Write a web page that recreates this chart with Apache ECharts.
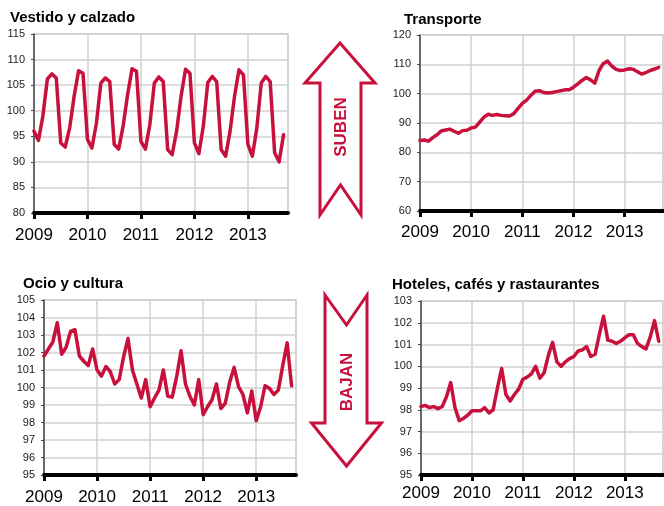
<!DOCTYPE html>
<html>
<head>
<meta charset="utf-8">
<title>IPC por grupos</title>
<script src="https://cdn.jsdelivr.net/npm/echarts@6/dist/echarts.min.js"></script>
<style>
  html, body { margin: 0; padding: 0; background: #fff; }
  #chart { width: 664px; height: 506px; }
</style>
</head>
<body>
<div id="chart"></div>
<script>
// años que se ven en el eje x (una marca cada enero)
var years = ['2009', '2010', '2011', '2012', '2013'];
// el eje llega hasta oct 2013, los datos hasta sep 2013
var nMonths = 58;

// ene 2009 - sep 2013
var vestido = [
  96.0, 94.2, 99.0, 106.2, 107.2, 106.4, 93.7, 92.9, 96.6, 102.8, 107.8, 107.3,
  94.4, 92.7, 97.5, 105.4, 106.4, 105.7, 93.4, 92.5, 97.0, 103.1, 108.2, 107.7,
  94.0, 92.5, 97.3, 105.4, 106.6, 105.7, 92.4, 91.4, 96.0, 102.8, 108.1, 107.3,
  93.7, 91.6, 97.0, 105.5, 106.7, 105.7, 92.4, 91.1, 96.0, 102.8, 108.0, 107.0,
  93.4, 91.1, 96.6, 105.4, 106.7, 105.7, 91.8, 90.0, 95.3
];
var transporte = [
  84.0, 84.2, 83.8, 85.0, 86.0, 87.3, 87.6, 87.9, 87.2, 86.5, 87.4, 87.5,
  88.3, 88.6, 90.3, 92.0, 93.0, 92.6, 92.9, 92.6, 92.5, 92.4, 93.2, 95.0,
  96.7, 97.8, 99.4, 100.8, 101.0, 100.4, 100.2, 100.4, 100.7, 101.0, 101.3, 101.3,
  102.2, 103.3, 104.5, 105.5, 104.7, 103.6, 107.9, 110.3, 111.1, 109.4, 108.3, 107.9,
  108.1, 108.5, 108.3, 107.5, 106.7, 107.2, 107.9, 108.4, 109.0
];
var ocio = [
  101.8, 102.2, 102.6, 103.7, 101.9, 102.3, 103.2, 103.3, 101.8, 101.5, 101.25, 102.2,
  101.0, 100.65, 101.2, 100.9, 100.2, 100.45, 101.75, 102.8, 101.0, 100.2, 99.4, 100.45,
  98.9, 99.4, 99.85, 101.0, 99.5, 99.45, 100.6, 102.1, 100.2, 99.5, 99.0, 100.45,
  98.45, 98.9, 99.3, 100.2, 98.8, 99.1, 100.3, 101.15, 100.05, 99.6, 98.55, 99.8,
  98.1, 98.9, 100.1, 99.95, 99.6, 99.85, 101.25, 102.55, 100.1
];
var hoteles = [
  98.15, 98.2, 98.1, 98.15, 98.05, 98.15, 98.6, 99.25, 98.1, 97.5, 97.6, 97.75,
  97.95, 97.95, 97.95, 98.1, 97.85, 98.0, 99.0, 99.9, 98.7, 98.4, 98.7, 98.95,
  99.4, 99.5, 99.65, 100.0, 99.45, 99.7, 100.5, 101.1, 100.2, 100.0, 100.2, 100.35,
  100.45, 100.7, 100.75, 100.9, 100.45, 100.55, 101.45, 102.3, 101.2, 101.15, 101.05, 101.15,
  101.3, 101.45, 101.45, 101.05, 100.9, 100.8, 101.35, 102.1, 101.15
];

var months = [];
years.forEach(function (y) {
  for (var m = 1; m <= 12; m++) months.push(y + '-' + (m < 10 ? '0' + m : m));
});
months = months.slice(0, nMonths);

var red = '#c8103c';
var font = '"Liberation Sans", Arial, sans-serif';
var gridGray = '#d0d0d0';

var panels = [
  { name: 'Vestido y calzado', data: vestido, min: 80, max: 115, step: 5,
    grid: { left: 34, top: 34, width: 254, height: 179 }, title: [10, 10], gap: 14 },
  { name: 'Transporte', data: transporte, min: 60, max: 120, step: 10,
    grid: { left: 420, top: 35, width: 243, height: 176 }, title: [404, 12], gap: 13 },
  { name: 'Ocio y cultura', data: ocio, min: 95, max: 105, step: 1,
    grid: { left: 44, top: 300, width: 252, height: 179 }, title: [23, 276], gap: 14 },
  { name: 'Hoteles, cafés y rastaurantes', data: hoteles, min: 95, max: 103, step: 1,
    grid: { left: 421, top: 301, width: 242, height: 174 }, title: [392, 277], gap: 10 }
];

var chart = echarts.init(document.getElementById('chart'), null, { renderer: 'canvas' });

chart.setOption({
  animation: false,
  backgroundColor: '#fff',
  title: panels.map(function (p) {
    return {
      text: p.name, left: p.title[0], top: p.title[1], padding: 0,
      textStyle: { fontFamily: font, fontSize: 15, fontWeight: 'bold', color: '#000' }
    };
  }),
  grid: panels.map(function (p) {
    return {
      left: p.grid.left, top: p.grid.top, width: p.grid.width, height: p.grid.height,
      show: true, borderColor: '#c8c8c8', borderWidth: 1.5, containLabel: false
    };
  }),
  xAxis: panels.map(function (p, i) {
    return {
      type: 'category', gridIndex: i, data: months, boundaryGap: false,
      axisLine: { lineStyle: { color: '#000', width: 4 } },
      axisTick: { interval: 11, length: 6, lineStyle: { color: '#000', width: 3 } },
      axisLabel: {
        interval: 11, margin: p.gap, fontFamily: font, fontSize: 17, color: '#000',
        formatter: function (v) { return v.slice(0, 4); }
      },
      splitLine: { show: true, interval: 11, lineStyle: { color: gridGray, width: 1.5 } }
    };
  }),
  yAxis: panels.map(function (p, i) {
    return {
      type: 'value', gridIndex: i, min: p.min, max: p.max, interval: p.step,
      axisLine: { show: true, lineStyle: { color: '#444', width: 1.5 } },
      axisTick: { show: true, length: 3, lineStyle: { color: '#444', width: 1 } },
      axisLabel: { margin: 9, fontFamily: font, fontSize: 11, color: '#1a1a1a' },
      splitLine: { lineStyle: { color: gridGray, width: 1.5 } }
    };
  }),
  series: panels.map(function (p, i) {
    return {
      name: p.name, type: 'line', xAxisIndex: i, yAxisIndex: i, data: p.data,
      showSymbol: false, silent: true,
      lineStyle: { color: red, width: 3.5, cap: 'round', join: 'round' }
    };
  }),
  graphic: [
    {
      type: 'polygon', z: 10,
      shape: { points: [[340, 43], [375, 83], [361, 83], [361, 215], [340.5, 185],
                        [320, 215], [320, 83], [305, 83]] },
      style: { fill: '#fff', stroke: red, lineWidth: 3, lineJoin: 'miter' }
    },
    {
      type: 'text', z: 11, x: 341, y: 127, rotation: Math.PI / 2,
      style: { text: 'SUBEN', fill: red, font: 'bold 17px ' + font,
               textAlign: 'center', textVerticalAlign: 'middle' }
    },
    {
      type: 'polygon', z: 10,
      shape: { points: [[325, 295], [346.5, 325], [367, 295], [367, 423], [381.5, 423],
                        [346.5, 466], [311.5, 423], [325, 423]] },
      style: { fill: '#fff', stroke: red, lineWidth: 3, lineJoin: 'miter' }
    },
    {
      type: 'text', z: 11, x: 347, y: 382, rotation: Math.PI / 2,
      style: { text: 'BAJAN', fill: red, font: 'bold 17px ' + font,
               textAlign: 'center', textVerticalAlign: 'middle' }
    }
  ]
});
</script>
</body>
</html>
